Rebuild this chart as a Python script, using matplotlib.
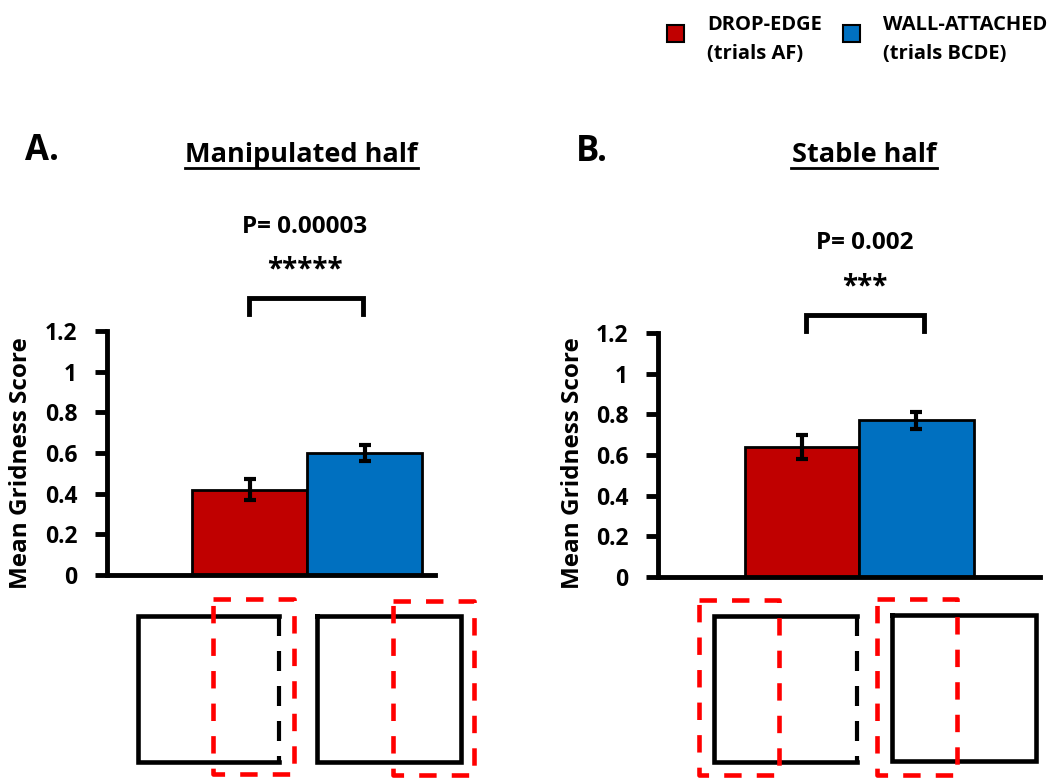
import matplotlib
matplotlib.use("Agg")
import matplotlib.pyplot as plt

plt.rcParams['font.family'] = ['Open Sans', 'DejaVu Sans']
plt.rcParams['font.weight'] = 'bold'

W, H = 1064, 778

groups = ['DROP-EDGE\n(trials AF)', 'WALL-ATTACHED\n(trials BCDE)']
colors = ['#c00000', '#0070c0']
yticks = [0, 0.2, 0.4, 0.6, 0.8, 1, 1.2]
ytick_labels = ['0', '0.2', '0.4', '0.6', '0.8', '1', '1.2']

# mean gridness and error (lower, upper) per half
manip_means = [0.42, 0.60]
manip_err_lo = [0.05, 0.04]
manip_err_hi = [0.05, 0.04]
stable_means = [0.64, 0.77]
stable_err_lo = [0.06, 0.04]
stable_err_hi = [0.06, 0.04]

fig = plt.figure(figsize=(W / 100, H / 100), dpi=100)

# overlay axis in pixel units for annotations and arena sketches
ov = fig.add_axes([0, 0, 1, 1])
ov.set_xlim(0, W)
ov.set_ylim(H, 0)
ov.axis('off')


def px_axes(x0, x1, y_top, y_bot):
    return fig.add_axes([x0 / W, (H - y_bot) / H, (x1 - x0) / W, (y_bot - y_top) / H])


def bar_panel(ax, means, lo, hi, xlim, label_xy):
    ax.bar([0, 1], means, width=1, align='edge', color=colors,
           edgecolor='black', linewidth=2, zorder=2)
    ax.errorbar([0.5, 1.5], means, yerr=[lo, hi], fmt='none', ecolor='black',
                elinewidth=3, capsize=4, capthick=3, zorder=3)
    ax.set_xlim(*xlim)
    ax.set_ylim(0, 1.2)
    ax.set_yticks(yticks)
    ax.set_yticklabels(ytick_labels)
    ax.set_xticks([])
    for s in ['top', 'right']:
        ax.spines[s].set_visible(False)
    for s in ['left', 'bottom']:
        ax.spines[s].set_linewidth(3.5)
    ax.tick_params(axis='y', length=9, width=3.5, labelsize=16.5, pad=12.5)
    ax.set_ylabel('Mean Gridness Score', fontsize=17.5, fontweight='bold')
    ax.yaxis.set_label_coords(*label_xy)
    ax.patch.set_alpha(0)


axA = px_axes(107, 435, 331, 575)
bar_panel(axA, manip_means, manip_err_lo, manip_err_hi, (-0.739, 2.11), (-0.226, 0.46))
axB = px_axes(658, 1040, 333, 577)
bar_panel(axB, stable_means, stable_err_lo, stable_err_hi, (-0.76, 2.58), (-0.191, 0.465))

# panel letters and titles
ov.text(25, 160, 'A.', fontsize=25, fontweight='bold', va='baseline')
ov.text(576, 161, 'B.', fontsize=25, fontweight='bold', va='baseline')
ov.text(301, 162, 'Manipulated half', fontsize=19.5, fontweight='bold',
        ha='center', va='baseline')
ov.plot([185, 418], [168, 168], color='black', lw=2)
ov.text(864, 162, 'Stable half', fontsize=19.5, fontweight='bold',
        ha='center', va='baseline')
ov.plot([791, 937], [168, 168], color='black', lw=2)

# significance brackets
ov.text(305, 233, 'P= 0.00003', fontsize=17.5, fontweight='bold', ha='center', va='baseline')
ov.text(305, 277, '*****', fontsize=20, fontweight='bold', ha='center', va='baseline')
ov.plot([249, 249, 363, 363], [314, 298, 298, 314], color='black', lw=3.5,
        solid_joinstyle='miter')
ov.text(865, 249, 'P= 0.002', fontsize=17.5, fontweight='bold', ha='center', va='baseline')
ov.text(865, 294, '***', fontsize=20, fontweight='bold', ha='center', va='baseline')
ov.plot([806, 806, 924, 924], [331, 315, 315, 331], color='black', lw=3.5,
        solid_joinstyle='miter')


# arena sketches: black box (dashed right wall for drop edge) plus red dashed half
def arena(x0, x1, y0, y1, drop):
    if drop:
        ov.plot([x1, x0, x0, x1], [y0, y0, y1, y1], color='black', lw=3.3,
                solid_joinstyle='miter')
        ov.plot([x1, x1], [y0, y1], color='black', lw=3.0, ls=(0, (4.8, 3.6)))
    else:
        ov.plot([x0, x1, x1, x0, x0], [y0, y0, y1, y1, y0], color='black', lw=3.3,
                solid_joinstyle='miter')


def half(x0, x1, y0, y1):
    ov.plot([x0, x1, x1, x0, x0], [y0, y0, y1, y1, y0], color='#ff0000', lw=3.3,
            ls=(0, (3.8, 3.3)))


arena(138, 279, 616, 762, True)
half(213, 294, 599, 774)
arena(317, 461, 616, 762, False)
half(393, 474, 601, 775)

arena(714, 857, 616, 762, True)
half(699, 779, 600, 775)
arena(892, 1036, 615, 761, False)
half(877, 957, 599, 775)

# legend
for (sx, tx), name, c in zip([(667, 707), (843, 883)], groups, colors):
    ov.add_patch(plt.Rectangle((sx, 25), 17, 17, facecolor=c, edgecolor='black', lw=1.5))
    for k, line in enumerate(name.split('\n')):
        ov.text(tx, 30 + 29 * k, line, fontsize=14.5, fontweight='bold', va='baseline')

fig.savefig('out.png', dpi=100)
